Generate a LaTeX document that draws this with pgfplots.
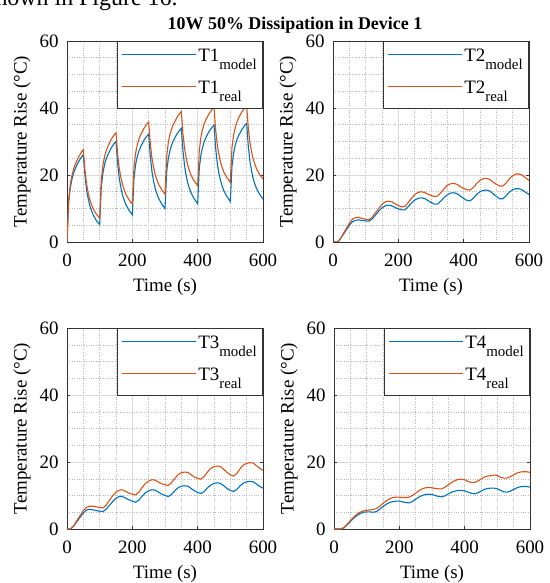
\documentclass[border=0pt]{standalone}
\usepackage{fontspec}
\setmainfont{Liberation Serif}
\usepackage{pgfplots}
\pgfplotsset{compat=1.18}
\definecolor{mblue}{rgb}{0,0.447,0.741}
\definecolor{morange}{rgb}{0.85,0.325,0.098}
\newcommand\sub[1]{\raisebox{-0.45em}{\fontsize{15}{15}\selectfont #1}}
\pgfplotsset{mat/.style={
 scale only axis, width=196bp, height=201bp,
 xmin=0,xmax=600,ymin=0,ymax=60,
 xtick={0,200,400,600}, ytick={0,20,40,60},
 minor xtick={50,100,150,250,300,350,450,500,550},
 minor ytick={5,10,15,25,30,35,45,50,55},
 grid=both,
 major grid style={gray!30, line width=0.5bp},
 minor grid style={gray!55, dotted, line width=0.5bp},
 axis line style={black!80, line width=0.6bp},
 tick style={black!80, line width=0.6bp},
 major tick length=3bp, minor tick length=0bp,
 tick align=inside,
 /pgf/number format/assume math mode=true,
 ticklabel style={font=\fontsize{19}{19}\selectfont},
 xticklabel style={yshift=-8bp},
 yticklabel style={xshift=-5bp},
 label style={font=\fontsize{19}{19}\selectfont},
 xlabel style={yshift=-5bp},
 ylabel style={yshift=2bp},
 xlabel={Time (s)}, ylabel={Temperature Rise (°C)},
 legend style={at={(1,1)}, anchor=north east, draw=black!80, line width=0.6bp,
   font=\fontsize{19}{19}\selectfont, inner xsep=4bp, inner ysep=3bp, row sep=3bp,
   nodes={inner sep=2bp, text height=15bp, text depth=10bp}},
 legend cell align=left,
 legend image code/.code={\draw[#1] (0bp,4bp) -- (74bp,4bp);},
 every axis plot/.append style={line width=1.1bp},
}}
\begin{document}
\begin{tikzpicture}[x=1bp,y=1bp]
\useasboundingbox (0,0) rectangle (550,583);
\node[anchor=base west, font=\fontsize{24}{24}\selectfont, inner sep=0] at (-14,577) {shown in Figure 16.};
\node[anchor=base, font=\bfseries\fontsize{18}{18}\selectfont, inner sep=0] at (295,553) {10W 50\% Dissipation in Device 1};
% T1
\begin{axis}[mat, at={(67bp,341bp)}, anchor=south west]
\addplot[mblue] table[row sep=\\] {
x y\\ 0 0\\ 5 11.7\\ 10 16.1\\ 15 18.7\\ 20 20.5\\ 25 21.8\\ 30 22.9\\ 35 23.9\\ 40 24.7\\ 45 25.5\\ 50 26.0\\
55 19.8\\ 60 15.6\\ 65 12.9\\ 70 10.8\\ 75 9.4\\ 80 8.1\\ 85 7.3\\ 90 6.4\\ 95 5.8\\ 100 5.2\\
105 16.4\\ 110 20.6\\ 115 23.1\\ 120 24.8\\ 125 26.0\\ 130 27.0\\ 135 28.0\\ 140 28.8\\ 145 29.5\\ 150 30.0\\
155 23.4\\ 160 19.0\\ 165 16.2\\ 170 14.0\\ 175 12.5\\ 180 11.2\\ 185 10.3\\ 190 9.4\\ 195 8.8\\ 200 8.1\\
205 18.9\\ 210 23.0\\ 215 25.5\\ 220 27.1\\ 225 28.3\\ 230 29.3\\ 235 30.3\\ 240 31.0\\ 245 31.7\\ 250 32.2\\
255 25.5\\ 260 21.1\\ 265 18.2\\ 270 16.0\\ 275 14.4\\ 280 13.1\\ 285 12.2\\ 290 11.3\\ 295 10.7\\ 300 10.0\\
305 20.8\\ 310 24.8\\ 315 27.2\\ 320 28.9\\ 325 30.1\\ 330 31.0\\ 335 32.0\\ 340 32.7\\ 345 33.4\\ 350 33.9\\
355 27.2\\ 360 22.7\\ 365 19.7\\ 370 17.5\\ 375 15.9\\ 380 14.6\\ 385 13.7\\ 390 12.8\\ 395 12.1\\ 400 11.4\\
405 22.0\\ 410 26.0\\ 415 28.3\\ 420 30.0\\ 425 31.1\\ 430 32.1\\ 435 33.0\\ 440 33.7\\ 445 34.4\\ 450 34.9\\
455 28.1\\ 460 23.5\\ 465 20.5\\ 470 18.3\\ 475 16.7\\ 480 15.3\\ 485 14.4\\ 490 13.5\\ 495 12.8\\ 500 12.1\\
505 22.6\\ 510 26.5\\ 515 28.9\\ 520 30.5\\ 525 31.7\\ 530 32.6\\ 535 33.5\\ 540 34.2\\ 545 34.9\\ 550 35.4\\
555 28.6\\ 560 24.1\\ 565 21.2\\ 570 18.9\\ 575 17.3\\ 580 16.0\\ 585 15.1\\ 590 14.2\\ 595 13.5\\ 600 12.8\\
};
\addlegendentry{T1\sub{model}}
\addplot[morange] table[row sep=\\] {
x y\\ 0 0\\ 5 12.4\\ 10 17.1\\ 15 19.8\\ 20 21.7\\ 25 23.1\\ 30 24.2\\ 35 25.3\\ 40 26.1\\ 45 27.0\\ 50 27.5\\
55 21.4\\ 60 17.3\\ 65 14.6\\ 70 12.6\\ 75 11.2\\ 80 10.0\\ 85 9.1\\ 90 8.3\\ 95 7.7\\ 100 7.1\\
105 18.6\\ 110 22.9\\ 115 25.5\\ 120 27.2\\ 125 28.5\\ 130 29.5\\ 135 30.6\\ 140 31.3\\ 145 32.1\\ 150 32.6\\
155 26.2\\ 160 22.0\\ 165 19.2\\ 170 17.1\\ 175 15.6\\ 180 14.3\\ 185 13.4\\ 190 12.6\\ 195 11.9\\ 200 11.3\\
205 22.3\\ 210 26.5\\ 215 28.9\\ 220 30.7\\ 225 31.9\\ 230 32.9\\ 235 33.8\\ 240 34.6\\ 245 35.3\\ 250 35.8\\
255 29.4\\ 260 25.1\\ 265 22.3\\ 270 20.1\\ 275 18.6\\ 280 17.3\\ 285 16.5\\ 290 15.6\\ 295 14.9\\ 300 14.3\\
305 25.4\\ 310 29.6\\ 315 32.0\\ 320 33.7\\ 325 35.0\\ 330 35.9\\ 335 36.9\\ 340 37.7\\ 345 38.4\\ 350 38.9\\
355 32.3\\ 360 27.9\\ 365 25.0\\ 370 22.8\\ 375 21.2\\ 380 19.9\\ 385 19.0\\ 390 18.1\\ 395 17.5\\ 400 16.8\\
405 27.3\\ 410 31.3\\ 415 33.6\\ 420 35.3\\ 425 36.5\\ 430 37.4\\ 435 38.3\\ 440 39.0\\ 445 39.7\\ 450 40.2\\
455 33.5\\ 460 29.0\\ 465 26.1\\ 470 23.8\\ 475 22.3\\ 480 20.9\\ 485 20.0\\ 490 19.1\\ 495 18.5\\ 500 17.8\\
505 28.1\\ 510 31.9\\ 515 34.2\\ 520 35.8\\ 525 37.0\\ 530 37.9\\ 535 38.8\\ 540 39.5\\ 545 40.1\\ 550 40.6\\
555 34.1\\ 560 29.7\\ 565 26.9\\ 570 24.7\\ 575 23.2\\ 580 21.9\\ 585 21.0\\ 590 20.1\\ 595 19.5\\ 600 18.8\\
};
\addlegendentry{T1\sub{real}}
\end{axis}
% T2
\begin{axis}[mat, at={(333bp,341bp)}, anchor=south west]
\addplot[mblue] table[row sep=\\] {
x y\\ 0 0\\ 10 0\\ 15 0.1\\ 20 0.6\\ 30 2.0\\ 40 3.5\\ 50 5.0\\ 60 6.1\\ 70 6.5\\ 80 6.6\\ 90 6.4\\ 100 6.3\\
110 6.2\\ 120 6.9\\ 130 8.0\\ 140 9.2\\ 150 10.2\\ 160 10.8\\ 170 11.0\\ 180 10.8\\ 190 10.3\\ 200 9.9\\
210 9.6\\ 220 9.6\\ 230 10.5\\ 240 11.6\\ 250 12.5\\ 260 13.0\\ 270 13.2\\ 280 13.0\\ 290 12.4\\ 300 11.8\\
310 11.3\\ 320 11.3\\ 330 12.2\\ 340 13.3\\ 350 14.1\\ 360 14.6\\ 370 14.7\\ 380 14.4\\ 390 13.7\\ 400 13.0\\
410 12.4\\ 420 12.3\\ 430 13.1\\ 440 14.2\\ 450 15.0\\ 460 15.4\\ 470 15.5\\ 480 15.2\\ 490 14.4\\ 500 13.6\\
510 12.9\\ 520 12.9\\ 530 13.8\\ 540 14.9\\ 550 15.6\\ 560 15.9\\ 570 15.9\\ 580 15.5\\ 590 14.8\\ 600 14.2\\
};
\addlegendentry{T2\sub{model}}
\addplot[morange] table[row sep=\\] {
x y\\ 0 0\\ 10 0\\ 15 0.1\\ 20 0.6\\ 30 2.2\\ 40 3.9\\ 50 5.6\\ 60 6.9\\ 70 7.3\\ 80 7.3\\ 90 7.0\\ 100 6.8\\
110 6.6\\ 120 7.4\\ 130 8.7\\ 140 10.0\\ 150 11.2\\ 160 12.0\\ 170 12.2\\ 180 12.0\\ 190 11.4\\ 200 10.9\\
210 10.5\\ 220 10.6\\ 230 11.7\\ 240 13.0\\ 250 14.1\\ 260 14.8\\ 270 15.0\\ 280 14.8\\ 290 14.3\\ 300 13.9\\
310 13.6\\ 320 13.7\\ 330 14.7\\ 340 15.9\\ 350 16.9\\ 360 17.4\\ 370 17.5\\ 380 17.2\\ 390 16.5\\ 400 16.0\\
410 15.6\\ 420 15.5\\ 430 16.3\\ 440 17.5\\ 450 18.4\\ 460 18.9\\ 470 19.0\\ 480 18.7\\ 490 17.9\\ 500 17.2\\
510 16.7\\ 520 16.7\\ 530 17.6\\ 540 18.9\\ 550 19.8\\ 560 20.3\\ 570 20.3\\ 580 19.9\\ 590 19.1\\ 600 18.4\\
};
\addlegendentry{T2\sub{real}}
\end{axis}
% T3
\begin{axis}[mat, at={(67bp,54bp)}, anchor=south west]
\addplot[mblue] table[row sep=\\] {
x y\\ 0 0\\ 10 0\\ 20 0.8\\ 30 2.2\\ 40 3.5\\ 50 4.8\\ 60 5.7\\ 70 5.9\\ 80 5.7\\ 90 5.5\\ 100 5.3\\
110 5.2\\ 120 5.9\\ 130 7.1\\ 140 8.2\\ 150 9.2\\ 160 9.7\\ 170 9.7\\ 180 9.2\\ 190 8.7\\ 200 8.3\\
210 8.0\\ 220 8.6\\ 230 9.8\\ 240 10.8\\ 250 11.4\\ 260 11.7\\ 270 11.6\\ 280 11.0\\ 290 10.4\\ 300 10.0\\
310 9.7\\ 320 10.3\\ 330 11.4\\ 340 12.3\\ 350 12.8\\ 360 12.9\\ 370 12.8\\ 380 12.1\\ 390 11.4\\ 400 10.9\\
410 10.6\\ 420 11.2\\ 430 12.3\\ 440 13.1\\ 450 13.6\\ 460 13.8\\ 470 13.6\\ 480 12.9\\ 490 12.1\\ 500 11.5\\
510 11.2\\ 520 11.8\\ 530 12.9\\ 540 13.7\\ 550 14.1\\ 560 14.2\\ 570 14.1\\ 580 13.4\\ 590 12.7\\ 600 12.2\\
};
\addlegendentry{T3\sub{model}}
\addplot[morange] table[row sep=\\] {
x y\\ 0 0\\ 10 0\\ 20 0.9\\ 30 2.5\\ 40 4.0\\ 50 5.5\\ 60 6.5\\ 70 6.8\\ 80 6.8\\ 90 6.6\\ 100 6.4\\
110 6.3\\ 120 7.1\\ 130 8.6\\ 140 9.9\\ 150 11.0\\ 160 11.6\\ 170 11.7\\ 180 11.2\\ 190 10.7\\ 200 10.4\\
210 10.2\\ 220 11.0\\ 230 12.4\\ 240 13.6\\ 250 14.3\\ 260 14.7\\ 270 14.6\\ 280 14.0\\ 290 13.5\\ 300 13.2\\
310 13.0\\ 320 13.8\\ 330 15.1\\ 340 16.2\\ 350 16.8\\ 360 17.0\\ 370 16.9\\ 380 16.2\\ 390 15.5\\ 400 15.1\\
410 14.9\\ 420 15.7\\ 430 17.0\\ 440 18.1\\ 450 18.6\\ 460 18.8\\ 470 18.6\\ 480 17.8\\ 490 16.9\\ 500 16.2\\
510 15.8\\ 520 16.6\\ 530 18.0\\ 540 19.1\\ 550 19.6\\ 560 19.8\\ 570 19.7\\ 580 18.9\\ 590 18.1\\ 600 17.5\\
};
\addlegendentry{T3\sub{real}}
\end{axis}
% T4
\begin{axis}[mat, at={(334bp,54bp)}, anchor=south west]
\addplot[mblue] table[row sep=\\] {
x y\\ 0 0\\ 10 0\\ 20 0\\ 30 0.3\\ 40 1.2\\ 50 2.2\\ 60 3.2\\ 70 4.0\\ 80 4.6\\ 90 5.0\\ 100 5.1\\
110 5.1\\ 120 5.0\\ 130 5.2\\ 140 5.9\\ 150 6.7\\ 160 7.4\\ 170 7.9\\ 180 8.2\\ 190 8.3\\ 200 8.3\\
210 8.1\\ 220 7.9\\ 230 7.8\\ 240 8.2\\ 250 8.9\\ 260 9.5\\ 270 10.0\\ 280 10.3\\ 290 10.4\\ 300 10.3\\
310 10.0\\ 320 9.7\\ 330 9.6\\ 340 9.9\\ 350 10.5\\ 360 11.0\\ 370 11.3\\ 380 11.5\\ 390 11.5\\ 400 11.4\\
410 11.0\\ 420 10.7\\ 430 10.5\\ 440 10.8\\ 450 11.3\\ 460 11.8\\ 470 12.1\\ 480 12.2\\ 490 12.2\\ 500 12.0\\
510 11.5\\ 520 11.1\\ 530 11.0\\ 540 11.3\\ 550 11.8\\ 560 12.3\\ 570 12.6\\ 580 12.7\\ 590 12.7\\ 600 12.5\\
};
\addlegendentry{T4\sub{model}}
\addplot[morange] table[row sep=\\] {
x y\\ 0 0\\ 10 0\\ 20 0\\ 30 0.4\\ 40 1.4\\ 50 2.5\\ 60 3.5\\ 70 4.4\\ 80 5.0\\ 90 5.4\\ 100 5.6\\
110 5.7\\ 120 5.8\\ 130 6.1\\ 140 6.8\\ 150 7.6\\ 160 8.4\\ 170 9.0\\ 180 9.4\\ 190 9.5\\ 200 9.5\\
210 9.4\\ 220 9.4\\ 230 9.5\\ 240 10.0\\ 250 10.7\\ 260 11.4\\ 270 12.0\\ 280 12.3\\ 290 12.4\\ 300 12.3\\
310 12.1\\ 320 12.0\\ 330 12.0\\ 340 12.5\\ 350 13.2\\ 360 13.9\\ 370 14.4\\ 380 14.8\\ 390 14.9\\ 400 14.7\\
410 14.2\\ 420 13.9\\ 430 13.9\\ 440 14.3\\ 450 14.9\\ 460 15.5\\ 470 15.8\\ 480 15.9\\ 490 16.1\\ 500 16.0\\
510 15.4\\ 520 15.2\\ 530 15.2\\ 540 15.6\\ 550 16.2\\ 560 16.7\\ 570 17.0\\ 580 17.1\\ 590 17.1\\ 600 16.9\\
};
\addlegendentry{T4\sub{real}}
\end{axis}
\end{tikzpicture}
\end{document}
